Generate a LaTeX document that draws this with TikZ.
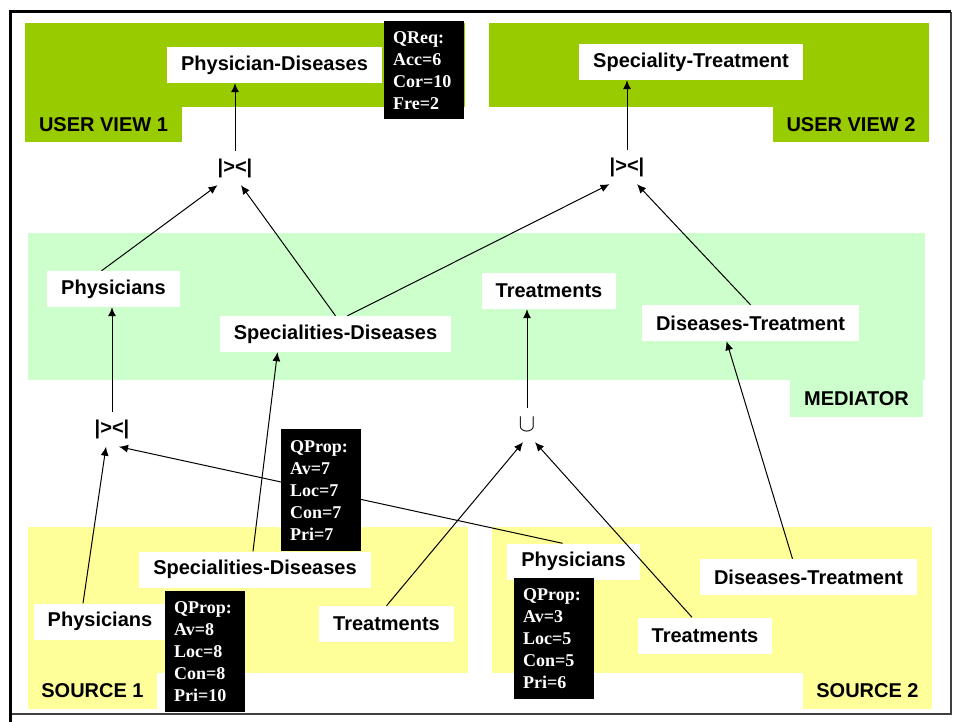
\documentclass[tikz,border=0pt]{standalone}
\usepackage{fontspec}
\setmainfont{Liberation Serif}
\setsansfont{Liberation Sans}
\usepackage{tikz}
\usetikzlibrary{arrows.meta}
\definecolor{uvgreen}{HTML}{99CC00}
\definecolor{medgreen}{HTML}{CCFFCC}
\definecolor{srcyellow}{HTML}{FFFF99}

\begin{document}
\begin{tikzpicture}[x=1pt,y=-1pt,
    rel/.style={fill=white,inner xsep=14pt,inner ysep=0pt,minimum height=36pt,
        font=\fontsize{20}{24}\sffamily\bfseries},
    op/.style={inner sep=0pt,minimum height=34pt,font=\fontsize{20}{24}\sffamily\bfseries},
    lbl/.style={font=\fontsize{20}{24}\sffamily\bfseries},
    qbox/.style={fill=black,text=white,anchor=north west,align=left,text width=62pt,
        inner xsep=9pt,font=\fontsize{18}{22}\rmfamily\bfseries},
    arr/.style={line width=1pt,-{Latex[length=9pt,width=8pt]}}]
    \useasboundingbox (0,0) rectangle (954,722);
    \fill[white] (0,0) rectangle (954,722);
    \draw[darkgray,line width=1.5pt] (951,12)--(951,714)--(10,714);
    \draw[line width=3pt] (10,722)--(10,12)--(951,12);

    \fill[uvgreen] (25,23) rectangle (465,107);
    \fill[uvgreen] (25,107) rectangle (182,142);
    \fill[uvgreen] (489,23) rectangle (929,107);
    \fill[uvgreen] (773,107) rectangle (929,142);
    \fill[medgreen] (28,233) rectangle (925,380);
    \fill[medgreen] (790,380) rectangle (923,417);
    \fill[srcyellow] (28,527) rectangle (468,673);
    \fill[srcyellow] (28,673) rectangle (157,709);
    \fill[srcyellow] (492,527) rectangle (932,673);
    \fill[srcyellow] (803,673) rectangle (932,709);

    \node[lbl] (uv1) at (103.5,124.5) {USER VIEW 1};
    \node[lbl] (uv2) at (851,124.5) {USER VIEW 2};
    \node[lbl] (med) at (856.5,398.5) {MEDIATOR};
    \node[lbl] (src1) at (92.5,691) {SOURCE 1};
    \node[lbl] (src2) at (867.5,691) {SOURCE 2};

    \node[rel] (pd) at (274.5,65) {Physician-Diseases};
    \node[rel] (st) at (691,62) {Speciality-Treatment};
    \node[op] (j1) at (235,168) {|><|};
    \node[op] (j2) at (627,167) {|><|};

    \node[rel] (mPhys) at (113.5,289) {Physicians};
    \node[rel] (mSD) at (335.5,334) {Specialities-Diseases};
    \node[rel] (mTr) at (549,291) {Treatments};
    \node[rel] (mDT) at (750.5,323) {Diseases-Treatment};

    \node[op] (j3) at (112,429.5) {|><|};
    \node[op,font=\fontsize{23}{27}\selectfont] (un) at (527,425) {$\cup$};

    \node[rel] (s1SD) at (255,569.5) {Specialities-Diseases};
    \node[rel] (s1Ph) at (100,621.5) {Physicians};
    \node[rel] (s1Tr) at (386.5,624) {Treatments};
    \node[rel] (s2Ph) at (573.5,561.5) {Physicians};
    \node[rel] (s2DT) at (808.5,577) {Diseases-Treatment};
    \node[rel] (s2Tr) at (705,635.5) {Treatments};

    \draw[arr] (j1.north)--(j1.north |- pd.south);
    \draw[arr] (j2.north)--(j2.north |- st.south);
    \draw[arr] ([xshift=-12pt]mPhys.north)--(j1.south west);
    \draw[arr] (mSD.north)--([xshift=6pt]j1.south);
    \draw[arr] ([xshift=12pt]mSD.north)--(j2.south west);
    \draw[arr] (mDT.north)--([xshift=10pt]j2.south);

    \draw[arr] (j3.north)--(j3.north |- mPhys.south);
    \draw[arr] (un.north)--(un.north |- mTr.south);
    \draw[arr] ([xshift=-2pt]s1SD.north)--([xshift=-58pt]mSD.south);
    \draw[arr] ([xshift=-16pt]s2DT.north)--([xshift=-24pt]mDT.south);

    \draw[arr] ([xshift=-17pt]s1Ph.north)--([xshift=-6pt]j3.south);
    \draw[arr] ([xshift=-11pt]s2Ph.north)--([xshift=7pt]j3.south);
    \draw[arr] (s1Tr.north)--([xshift=-4pt]un.south);
    \draw[arr] ([xshift=-13pt]s2Tr.north)--([xshift=8pt]un.south);

    \node[qbox,minimum height=98pt] (qreq) at (384,21) {QReq:\\Acc=6\\Cor=10\\Fre=2};
    \node[qbox,minimum height=122pt] (qp1) at (281,429) {QProp:\\Av=7\\Loc=7\\Con=7\\Pri=7};
    \node[qbox,minimum height=121pt] (qp2) at (165,591) {QProp:\\Av=8\\Loc=8\\Con=8\\Pri=10};
    \node[qbox,minimum height=121pt] (qp3) at (514,578) {QProp:\\Av=3\\Loc=5\\Con=5\\Pri=6};
\end{tikzpicture}
\end{document}
